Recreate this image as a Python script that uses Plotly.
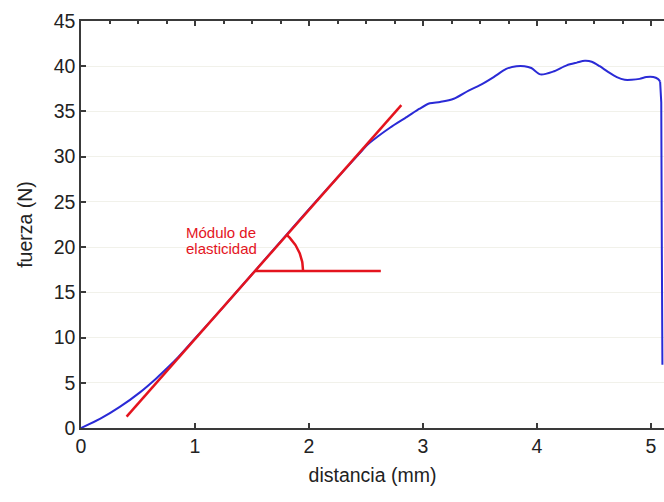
import numpy as np
import plotly.graph_objects as go

# Measured curve: distance (mm) vs force (N)
distancia = [0, 0.17, 0.34, 0.52, 0.66, 0.77, 0.85, 1.0, 1.25, 1.5, 1.75, 2.0, 2.25, 2.46,
             2.51, 2.6, 2.71, 2.86, 2.97, 3.06, 3.15, 3.27, 3.40, 3.50, 3.62, 3.73, 3.82, 3.89,
             3.95, 4.03, 4.14, 4.26, 4.35, 4.42, 4.48, 4.55, 4.62, 4.70, 4.77, 4.83, 4.90,
             4.96, 5.02, 5.06, 5.08]
fuerza = [0, 1.03, 2.33, 3.97, 5.48, 6.79, 7.8, 9.9, 13.4, 17.0, 20.6, 24.2, 27.7, 30.6,
          31.3, 32.2, 33.2, 34.4, 35.3, 35.9, 36.05, 36.4, 37.3, 37.9, 38.8, 39.7, 40.0, 40.0,
          39.8, 39.1, 39.4, 40.1, 40.4, 40.6, 40.5, 40.0, 39.4, 38.8, 38.5, 38.5, 38.6,
          38.8, 38.8, 38.6, 38.3]
# final rupture drop
caida_x = [5.08, 5.09, 5.095, 5.10]
caida_y = [38.3, 36.0, 20.0, 7.0]

# Elastic modulus tangent line
tangente_x = [0.40, 2.81]
tangente_y = [1.25, 35.7]
nivel_horizontal = 17.36
horizontal_fin = 2.63

x_ticks = [0, 1, 2, 3, 4, 5]
y_ticks = [0, 5, 10, 15, 20, 25, 30, 35, 40, 45]

RED = "#e4141e"
BLUE = "#2a2ad6"
FONT = "Liberation Sans, Arial, sans-serif"

W, H = 664, 502
ML, MR, MT, MB = 81, 0, 21, 74
XR = [0, 5.114]
YR = [0, 45]
px_x = (W - ML - MR) / (XR[1] - XR[0])
px_y = (H - MT - MB) / (YR[1] - YR[0])

slope = (tangente_y[1] - tangente_y[0]) / (tangente_x[1] - tangente_x[0])
cx = tangente_x[0] + (nivel_horizontal - tangente_y[0]) / slope
cy = nivel_horizontal
ang = np.arctan(slope * px_y / px_x)
r_px = 48
t = np.linspace(0, ang, 40)
arc_x = cx + (r_px / px_x) * np.cos(t)
arc_y = cy + (r_px / px_y) * np.sin(t)

fig = go.Figure()
fig.add_trace(go.Scatter(x=distancia, y=fuerza, mode="lines",
                         line=dict(color=BLUE, width=2, shape="spline", smoothing=0.8),
                         hoverinfo="skip", showlegend=False))
fig.add_trace(go.Scatter(x=caida_x, y=caida_y, mode="lines",
                         line=dict(color=BLUE, width=2), hoverinfo="skip", showlegend=False))
fig.add_trace(go.Scatter(x=tangente_x, y=tangente_y, mode="lines",
                         line=dict(color=RED, width=2.5), showlegend=False))
fig.add_trace(go.Scatter(x=[cx, horizontal_fin], y=[cy, cy], mode="lines",
                         line=dict(color=RED, width=2.5), showlegend=False))
fig.add_trace(go.Scatter(x=arc_x, y=arc_y, mode="lines",
                         line=dict(color=RED, width=2.5), showlegend=False))
# invisible trace for top axis
fig.add_trace(go.Scatter(x=XR, y=YR, xaxis="x2", mode="lines",
                         line=dict(width=0), opacity=0, showlegend=False, hoverinfo="skip"))

fig.add_annotation(x=0.904, y=(H - MB - 232) / px_y, xref="x", yref="y",
                   text="Módulo de", showarrow=False, xanchor="left", yanchor="middle",
                   font=dict(family=FONT, size=15, color=RED))
fig.add_annotation(x=0.904, y=(H - MB - 248) / px_y, xref="x", yref="y",
                   text="elasticidad", showarrow=False, xanchor="left", yanchor="middle",
                   font=dict(family=FONT, size=15, color=RED))

axis_common = dict(showline=True, linecolor="#3a3a3a", linewidth=1.5,
                   ticks="inside", tickcolor="#3a3a3a", ticklen=5, tickwidth=1.5,
                   zeroline=False, tickfont=dict(family=FONT, size=19.5, color="#222"))

fig.update_layout(
    width=W, height=H,
    margin=dict(l=ML, r=MR, t=MT, b=MB),
    paper_bgcolor="white", plot_bgcolor="white",
    xaxis=dict(range=XR, tickvals=x_ticks, showgrid=False,
               title=dict(text="distancia (mm)", font=dict(family=FONT, size=19.5, color="#222"), standoff=12),
               **axis_common),
    xaxis2=dict(range=XR, overlaying="x", side="top", showline=True, linecolor="#3a3a3a",
                linewidth=1.5, ticks="inside", ticklen=5, tickwidth=1.5, tickcolor="#3a3a3a",
                tickvals=x_ticks, showticklabels=False, showgrid=False, zeroline=False,
                minor=dict(tickvals=list(np.arange(0, 5.2, 0.25)), ticks="inside", ticklen=3,
                           tickcolor="#3a3a3a", showgrid=False)),
    yaxis=dict(range=YR, tickvals=y_ticks, showgrid=True, gridcolor="#f1f1ea", gridwidth=1,
               title=dict(text="fuerza (N)", font=dict(family=FONT, size=19.5, color="#222"), standoff=16),
               **axis_common),
)

fig.write_html("out.html")
